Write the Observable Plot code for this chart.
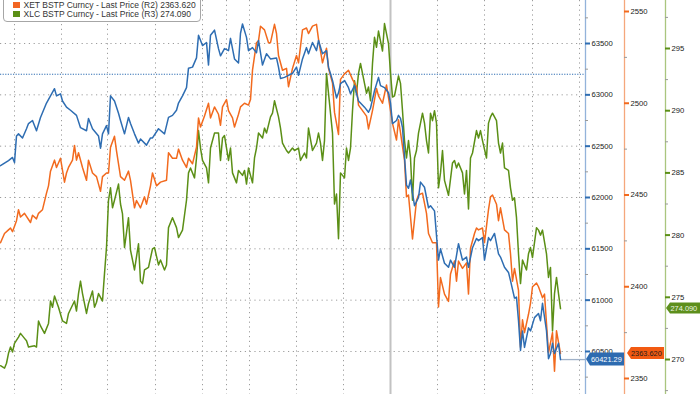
<!DOCTYPE html>
<html><head><meta charset="utf-8">
<script src="https://cdn.jsdelivr.net/npm/d3@7"></script>
<script src="https://cdn.jsdelivr.net/npm/@observablehq/plot@0.6"></script>
<style>
body{margin:0;background:#fff;}
#wrap{position:relative;width:700px;height:394px;overflow:hidden;font-family:"Liberation Sans",Arial,sans-serif;}
#legend{position:absolute;left:3px;top:-12px;width:196px;height:32px;border:1px solid #a6a6a6;border-radius:4px;background:#fff;font-size:8.5px;color:#333;}
.li{position:absolute;left:9px;white-space:nowrap;line-height:10px;}
.sw{display:inline-block;width:6.5px;height:6.5px;margin-right:4px;vertical-align:-0.5px;}
</style></head>
<body>
<div id="wrap"><div id="chart"></div>
<div id="legend"></div>
</div>
<script>
// ---- data (t = trading session index) ----
const blueSeries = [[0,62310],[4,62360],[6,62390],[7,62340],[8,62600],[9,62620],[11,62580],[13,62670],[14,62720],[16,62750],[18,62650],[20,62780],[23,62920],[25,62990],[27,63060],[28,62990],[30,63010],[31,62940],[33,62880],[35,62850],[38,62800],[40,62680],[43,62650],[44,62770],[46,62670],[49,62600],[50,62480],[51,62620],[53,62700],[54,62620],[55,62990],[57,62940],[59,62820],[60,62750],[62,62620],[64,62780],[65,62720],[67,62620],[69,62530],[70,62570],[73,62510],[75,62580],[76,62580],[79,62670],[82,62620],[84,62780],[86,62800],[88,62850],[89,62920],[91,62990],[93,63070],[94,63260],[96,63270],[98,63360],[99,63580],[101,63480],[103,63510],[104,63290],[105,63580],[107,63630],[109,63450],[110,63380],[112,63450],[114,63430],[115,63550],[117,63350],[119,63310],[120,63600],[121,63690],[123,63560],[124,63430],[126,63460],[128,63410],[129,63530],[131,63290],[133,63400],[135,63350],[138,63360],[139,63270],[140,63160],[142,63170],[144,63190],[146,63210],[148,63270],[149,63190],[151,63350],[153,63460],[154,63400],[156,63510],[158,63430],[159,63530],[161,63400],[163,63430],[164,63270],[166,63140],[168,62970],[169,63020],[170,63110],[172,63140],[174,63070],[175,63010],[177,63090],[179,62940],[180,62920],[182,62880],[184,62830],[185,62870],[187,63040],[189,63170],[190,63090],[192,63070],[194,63020],[195,62920],[196,62720],[198,62750],[199,62800],[200,62770],[201,62680],[203,62120],[204,62090],[205,62170],[207,61920],[209,62000],[210,62150],[212,62100],[214,61900],[215,61920],[217,61870],[219,61390],[220,61500],[222,61360],[224,61320],[225,61390],[227,61320],[229,61550],[231,61390],[233,61420],[234,61320],[236,61510],[238,61600],[239,61580],[241,61610],[242,61390],[244,61610],[245,61580],[247,61650],[249,61450],[250,61420],[252,61320],[254,61270],[255,61190],[257,61020],[258,61030],[259,60800],[260,60510],[261,60700],[262,60540],[264,60730],[265,60700],[267,60830],[269,60870],[270,60800],[271,60970],[273,60700],[274,60430],[275,60480],[276,60580],[277,60480],[279,60580],[280,60421.29]];

const orangeSeries = [[0,2424],[2,2429],[4,2431],[5,2432],[6,2430],[8,2436],[9,2442],[10,2438],[12,2440],[15,2435],[16,2439],[18,2437],[19,2440],[21,2442],[23,2451],[24,2455],[25,2463],[27,2469],[28,2465],[30,2470],[32,2457],[33,2462],[34,2465],[36,2469],[37,2477],[38,2469],[39,2473],[41,2465],[43,2458],[44,2469],[46,2462],[48,2460],[50,2452],[51,2460],[53,2462],[54,2462],[55,2476],[57,2482],[58,2474],[60,2460],[62,2458],[64,2463],[65,2458],[67,2443],[68,2447],[70,2443],[72,2449],[73,2445],[75,2455],[76,2462],[78,2455],[80,2457],[83,2458],[84,2473],[86,2470],[88,2470],[89,2475],[91,2469],[93,2465],[94,2470],[96,2467],[98,2476],[99,2492],[100,2487],[102,2493],[104,2500],[105,2492],[107,2498],[109,2494],[110,2488],[111,2498],[113,2502],[114,2496],[116,2492],[117,2487],[119,2494],[120,2498],[122,2500],[124,2499],[125,2502],[126,2518],[128,2533],[129,2534],[130,2542],[132,2540],[134,2533],[135,2533],[137,2543],[138,2538],[139,2526],[141,2518],[143,2519],[144,2509],[146,2519],[148,2526],[149,2522],[151,2540],[153,2541],[154,2538],[156,2542],[158,2543],[159,2535],[161,2522],[163,2530],[164,2519],[166,2511],[167,2495],[169,2483],[170,2513],[172,2516],[174,2518],[176,2513],[178,2509],[179,2499],[181,2496],[183,2493],[184,2486],[186,2496],[188,2508],[189,2504],[191,2500],[193,2510],[194,2503],[196,2489],[198,2480],[199,2491],[200,2484],[202,2469],[203,2449],[204,2450],[206,2426],[208,2447],[209,2450],[211,2451],[213,2440],[214,2429],[216,2424],[218,2424],[219,2389],[220,2405],[222,2396],[224,2392],[225,2407],[227,2414],[228,2403],[229,2414],[231,2410],[233,2413],[234,2396],[235,2421],[237,2429],[238,2432],[239,2431],[241,2432],[242,2424],[244,2442],[245,2449],[246,2450],[248,2445],[249,2436],[250,2443],[252,2431],[254,2429],[255,2418],[256,2403],[257,2410],[259,2398],[260,2367],[261,2382],[262,2375],[264,2385],[265,2391],[266,2400],[268,2402],[269,2400],[271,2394],[272,2396],[273,2380],[274,2364],[276,2375],[277,2354],[278,2376],[280,2363.62]];

const greenSeries = [[0,269.5],[2,269.3],[3,269.7],[4,270.5],[5,271.0],[6,270.6],[7,271.3],[9,271.8],[10,272.1],[12,271.7],[13,271.5],[14,271.0],[17,271.1],[18,271.0],[19,273.1],[20,272.7],[22,272.1],[24,272.9],[25,274.7],[26,274.2],[27,275.1],[29,274.2],[31,273.1],[33,272.9],[34,273.7],[37,274.7],[38,273.9],[39,275.3],[40,276.3],[41,275.3],[43,273.7],[44,274.5],[46,275.5],[47,274.2],[48,274.6],[49,275.3],[51,274.7],[52,276.9],[53,279.0],[54,282.8],[55,283.8],[56,282.2],[57,282.8],[59,284.1],[60,282.5],[61,281.7],[62,279.0],[64,281.4],[65,278.8],[67,277.2],[69,279.3],[70,276.3],[71,276.1],[72,277.2],[74,277.4],[76,278.9],[77,279.0],[79,277.6],[80,278.0],[82,277.2],[83,277.6],[84,280.6],[86,281.4],[88,280.6],[89,279.8],[91,280.4],[93,282.8],[94,285.0],[95,285.4],[97,284.6],[98,286.2],[99,288.4],[100,287.0],[101,286.0],[103,285.4],[104,284.2],[105,287.0],[107,288.2],[109,288.2],[110,286.0],[111,287.8],[112,288.0],[114,286.0],[115,287.0],[116,285.0],[118,284.2],[119,285.2],[121,284.8],[122,285.2],[123,284.1],[124,285.4],[126,284.2],[127,286.2],[128,287.0],[129,288.2],[131,287.8],[132,288.6],[133,288.2],[135,289.5],[136,289.8],[137,290.8],[139,289.5],[140,288.6],[141,287.4],[143,286.8],[144,286.6],[146,287.0],[147,286.8],[149,287.0],[150,286.0],[152,286.6],[153,286.2],[154,288.6],[156,286.8],[158,287.4],[159,288.2],[160,287.4],[161,286.0],[162,287.6],[163,293.0],[164,291.4],[166,288.2],[167,282.5],[168,283.3],[169,279.7],[170,285.0],[172,284.6],[173,287.0],[174,286.0],[175,287.0],[176,290.0],[177,292.4],[178,291.4],[179,293.0],[180,293.8],[182,292.2],[183,291.4],[184,291.9],[185,290.8],[186,293.8],[187,295.9],[188,295.1],[189,296.4],[191,294.8],[192,297.0],[193,296.2],[194,295.4],[195,293.0],[196,291.1],[197,291.2],[199,292.8],[200,292.2],[201,290.0],[202,287.6],[203,286.2],[204,287.6],[205,286.2],[206,282.8],[207,286.2],[208,286.8],[209,288.2],[211,289.8],[212,289.0],[213,287.6],[214,286.6],[215,289.8],[216,289.2],[217,290.0],[218,289.0],[219,283.8],[220,285.0],[221,286.8],[222,284.4],[224,283.2],[226,285.8],[227,286.0],[228,285.4],[229,285.8],[231,285.0],[232,283.3],[233,285.2],[234,282.1],[235,286.2],[236,286.6],[238,288.4],[239,287.8],[240,288.4],[241,287.6],[243,286.2],[244,289.0],[245,289.5],[246,289.8],[248,289.2],[249,287.4],[250,286.6],[251,287.4],[252,285.4],[254,285.2],[255,283.8],[256,282.8],[257,283.0],[258,281.4],[259,278.5],[260,276.1],[261,278.0],[263,277.2],[264,278.5],[265,279.0],[266,278.2],[268,280.6],[269,280.4],[270,280.0],[271,280.4],[273,278.5],[274,276.6],[275,277.4],[276,272.3],[277,275.3],[278,276.6],[279,275.3],[280,274.09]];

const blueTicks = [60500, 61000, 61500, 62000, 62500, 63000, 63500];
const orangeTicks = [2350, 2400, 2450, 2500, 2550];
const greenTicks = [270, 275, 280, 285, 290, 295];
const blueRef = 63200;          // dotted blue reference level
const gridSessions = [7, 30.5, 53.5, 77.5, 101, 113, 124.5, 148, 171.5, 195, 218.5, 242, 266, 289.5];
const markerSession = 195;      // solid grey vertical marker

const legendItems = [
  {label: "XET BSTP Curncy - Last Price (R2) 2363.620", color: "#f26522"},
  {label: "XLC BSTP Curncy - Last Price (R3) 274.090", color: "#5b8f16"}
];

// ---- layout ----
const W = 700, H = 394;
const Y_DOMAIN = [60081, 63919];
const BPP = (Y_DOMAIN[1] - Y_DOMAIN[0]) / H;       // blue units per pixel
const blueAtPx = px => Y_DOMAIN[1] - px * BPP;
const orangeToBlue = d3.scaleLinear().domain([2350, 2550]).range([blueAtPx(378), blueAtPx(11)]);
const greenToBlue = d3.scaleLinear().domain([270, 295]).range([blueAtPx(359), blueAtPx(48)]);
const AX_B = 292.5, AX_O = 312, AX_G = 332.5;   // axis positions (session units, 2px each)
const FS = 7.7, FSV = 7.4;

const C = {blue: "#2e6db2", orange: "#f26a1e", green: "#5b8f16"};

const toObj = (arr, f = d => d) => arr.map(([t, v]) => ({t, v, b: f(v)}));
const blue = toObj(blueSeries);
const orange = toObj(orangeSeries, orangeToBlue);
const green = toObj(greenSeries, greenToBlue);
const lastB = blue[blue.length - 1], lastO = orange[orange.length - 1], lastG = green[green.length - 1];

const minorB = d3.range(60250, 63900, 500);
const minorO = d3.range(2375, 2550, 50);
const minorG = d3.range(267.5, 300, 5);

const flagSpecs = [
  {b: lastB.b, ax: AX_B, gap: 1, w: 38, h: 13, fill: "#2d6bb0"},
  {b: lastO.b, ax: AX_O, gap: 3, w: 37, h: 12, fill: "#f25a12"},
  {b: lastG.b, ax: AX_G, gap: 1, w: 36, h: 11, fill: "#5d8f1c"}
];
function flags(index, scales) {
  const g = d3.create("svg:g");
  for (const f of flagSpecs) {
    const yc = scales.y(f.b);
    const x0 = scales.x(f.ax) + f.gap, x1 = x0 + f.w, h = f.h;
    g.append("path")
      .attr("d", `M${x0},${yc}L${x0 + 4},${yc - h / 2}H${x1}V${yc + h / 2}H${x0 + 4}Z`)
      .attr("fill", f.fill);
  }
  return g.node();
}

const axisMarks = (ticks, minor, conv, ax, color, lineColor) => [
  Plot.ruleX([ax], {stroke: lineColor, strokeWidth: 1.3}),
  Plot.ruleY(minor, {y: d => conv(d), x1: ax, x2: ax + 1.5, stroke: "#9a9a9a"}),
  Plot.ruleY(ticks, {y: d => conv(d), x1: ax, x2: ax + 2.5, stroke: color, strokeWidth: 2}),
  Plot.text(ticks, {y: d => conv(d), x: ax, dx: 6, text: d => String(d), textAnchor: "start", fontSize: FS, fill: "#222"})
];

const chart = Plot.plot({
  width: W, height: H, margin: 0,
  x: {domain: [0, W / 2], axis: null},
  y: {domain: Y_DOMAIN, axis: null},
  style: {fontFamily: "'Liberation Sans', Arial, sans-serif", background: "#fff"},
  marks: [
    Plot.ruleX(gridSessions, {stroke: "#9c9c9c", strokeDasharray: "1.2,3.6"}),
    Plot.ruleY(blueTicks, {x1: 0, x2: AX_B, stroke: "#9c9c9c", strokeDasharray: "1.2,3.6"}),
    Plot.ruleX([markerSession], {stroke: "#c2c2c2", strokeWidth: 2}),
    Plot.ruleY([blueRef], {x1: 0, x2: AX_B, stroke: C.blue, strokeDasharray: "1.2,1.4", strokeWidth: 1.1}),
    Plot.ruleY([lastB.b], {x1: lastB.t, x2: AX_B, stroke: "#9fb1c8", strokeWidth: 1.3}),
    Plot.line(green, {x: "t", y: "b", stroke: C.green, strokeWidth: 1.5}),
    Plot.line(orange, {x: "t", y: "b", stroke: C.orange, strokeWidth: 1.5}),
    Plot.line(blue, {x: "t", y: "b", stroke: C.blue, strokeWidth: 1.5}),
    ...axisMarks(blueTicks, minorB, d => d, AX_B, C.blue, "#93b3da"),
    ...axisMarks(orangeTicks, minorO, orangeToBlue, AX_O, C.orange, "#f5a77c"),
    ...axisMarks(greenTicks, minorG, greenToBlue, AX_G, C.green, "#aac57e"),
    flags,
    Plot.text([lastB], {x: AX_B, y: "b", dx: 5.5, text: d => d.v.toFixed(2), textAnchor: "start", fontSize: FSV, fill: "#fff"}),
    Plot.text([lastO], {x: AX_O, y: "b", dx: 6.5, text: d => d.v.toFixed(3), textAnchor: "start", fontSize: FSV, fill: "#1a1a1a"}),
    Plot.text([lastG], {x: AX_G, y: "b", dx: 5, text: d => d.v.toFixed(3), textAnchor: "start", fontSize: FSV, fill: "#eef5e4"})
  ]
});
document.getElementById("chart").appendChild(chart);

const lg = d3.select("#legend");
legendItems.forEach((d, i) => {
  const row = lg.append("div").attr("class", "li").style("top", (10.5 + i * 9) + "px");
  row.append("span").attr("class", "sw").style("background", d.color);
  row.append("span").text(d.label);
});
</script>
</body></html>
